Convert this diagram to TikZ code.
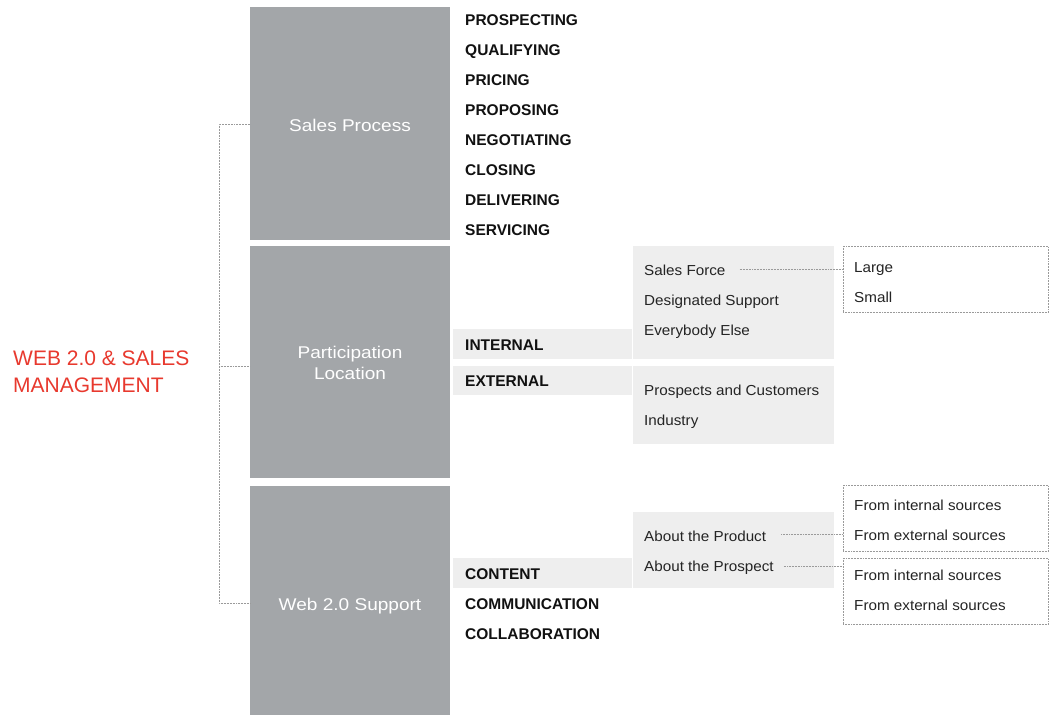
\documentclass[tikz,border=0pt]{standalone}
\usepackage{fontspec}
\setmainfont{Liberation Sans}
\newfontfamily\gfont{Liberation Sans}[FakeStretch=1.12]
\newfontfamily\sfont{Liberation Sans}[FakeStretch=1.05]
\definecolor{boxgray}{HTML}{A3A6A9}
\definecolor{lightgr}{HTML}{EEEEEE}
\definecolor{titlered}{HTML}{E8392E}
\definecolor{conngray}{HTML}{9A9A9A}
\definecolor{ink}{HTML}{111111}
\begin{document}
\begin{tikzpicture}[x=1pt,y=-1pt,
  gbox/.style={fill=boxgray, draw=none, minimum width=200pt, inner sep=0pt, anchor=north west},
  glabel/.style={text=white, font=\gfont\fontsize{17}{21}\selectfont, inner sep=0pt, anchor=base},
  blab/.style={font=\bfseries\fontsize{15.5}{18}\selectfont, text=ink, inner sep=0pt, anchor=base west},
  item/.style={font=\sfont\fontsize{14.5}{18}\selectfont, text=ink!92, inner sep=0pt, anchor=base west},
  bar/.style={fill=lightgr, draw=none, minimum width=179pt, inner sep=0pt, anchor=north west},
  lbox/.style={fill=lightgr, draw=none, minimum width=201pt, inner sep=0pt, anchor=north west},
  dbox/.style={draw=conngray, densely dotted, line width=0.55pt, fill=white, minimum width=205pt, minimum height=66pt, inner sep=0pt, anchor=north west},
  conn/.style={draw=conngray, densely dotted, line width=0.55pt},
  ttl/.style={font=\fontsize{21}{27}\selectfont, text=titlered, inner sep=0pt, anchor=base west}
]
\fill[white] (0,0) rectangle (1049,715);
\useasboundingbox (0,0) rectangle (1049,715);

% main gray boxes
\node[gbox, minimum height=233pt] (sp) at (250,7) {};
\node[gbox, minimum height=232pt] (pl) at (250,246) {};
\node[gbox, minimum height=229pt] (ws) at (250,486) {};
\node[glabel] (spl) at (350,131) {Sales Process};
\node[glabel] (pll1) at (350,358) {Participation};
\node[glabel] (pll2) at (350,379) {Location};
\node[glabel] (wsl) at (350,610) {Web 2.0 Support};

% title
\node[ttl] (t1) at (13,365) {WEB 2.0 \& SALES};
\node[ttl] (t2) at (13,392) {MANAGEMENT};

% bracket
\coordinate (b1) at (219,124);
\coordinate (b2) at (219,366.5);
\coordinate (b3) at (219,603);
\draw[conn] (b1 -| sp.west) -- (b1) -- (b3) -- (b3 -| ws.west);
\draw[conn] (b2) -- (b2 -| pl.west);

% sales process steps
\node[blab] (s1) at (465,25) {PROSPECTING};
\node[blab] (s2) at (465,55) {QUALIFYING};
\node[blab] (s3) at (465,85) {PRICING};
\node[blab] (s4) at (465,115) {PROPOSING};
\node[blab] (s5) at (465,145) {NEGOTIATING};
\node[blab] (s6) at (465,175) {CLOSING};
\node[blab] (s7) at (465,205) {DELIVERING};
\node[blab] (s8) at (465,235) {SERVICING};

% participation location
\node[bar, minimum height=30pt] (intbar) at (453,329) {};
\node[bar, minimum height=29pt] (extbar) at (453,366) {};
\node[blab] (intl) at (465,350) {INTERNAL};
\node[blab] (extl) at (465,386) {EXTERNAL};

\node[lbox, minimum height=113pt] (lb1) at (633,246) {};
\node[lbox, minimum height=78pt] (lb2) at (633,366) {};
\node[item] (sf) at (644,275) {Sales Force};
\node[item] (ds) at (644,305) {Designated Support};
\node[item] (ee) at (644,335) {Everybody Else};
\node[item] (pc) at (644,395) {Prospects and Customers};
\node[item] (ind) at (644,425) {Industry};

\node[dbox] (d1) at (843,246) {};
\node[item] (lg) at (854,272.5) {Large};
\node[item] (sm) at (854,302) {Small};
\draw[conn] ([shift={(14pt,5.5pt)}]sf.base east) coordinate (c1) -- (c1 -| d1.west);

% web 2.0 support
\node[bar, minimum height=29.5pt] (conbar) at (453,558) {};
\node[blab] (con) at (465,579) {CONTENT};
\node[blab] (com) at (465,609) {COMMUNICATION};
\node[blab] (col) at (465,639) {COLLABORATION};

\node[lbox, minimum height=76pt] (lb3) at (633,512) {};
\node[item] (apd) at (644,541.7) {About the Product};
\node[item] (aps) at (644,571.7) {About the Prospect};

\node[dbox] (d2) at (843,485) {};
\node[dbox] (d3) at (843,558) {};
\node[item] (fi1) at (854,510) {From internal sources};
\node[item] (fe1) at (854,540) {From external sources};
\node[item] (fi2) at (854,580.7) {From internal sources};
\node[item] (fe2) at (854,610.7) {From external sources};

\draw[conn] ([shift={(15pt,7pt)}]apd.base east) coordinate (c2) -- (c2 -| d2.west);
\draw[conn] ([shift={(10pt,5.5pt)}]aps.base east) coordinate (c3) -- (c3 -| d3.west);
\end{tikzpicture}
\end{document}
